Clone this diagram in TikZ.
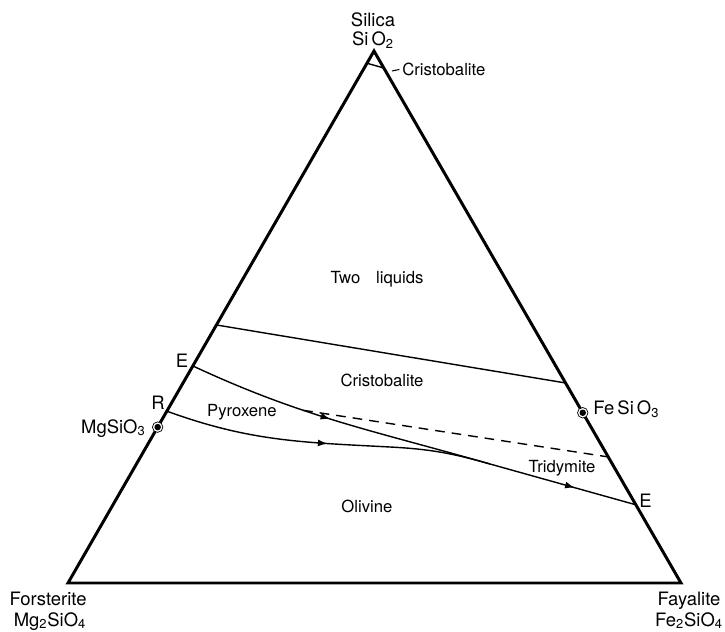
\documentclass[tikz,border=0pt]{standalone}
\usepackage{fontspec}
\setmainfont{TeX Gyre Heros}
\usepackage{tikz}
\usetikzlibrary{arrows.meta, calc, decorations.markings}
\tikzset{
  rim/.style       = {line width=1.7pt, line join=miter},
  boundary/.style  = {line width=0.8pt},
  solvus/.style    = {line width=0.8pt, dash pattern=on 5.5pt off 4pt},
  flowat/.style    = {postaction={decorate, decoration={markings,
                      mark=at position #1 with {\arrow{Latex[length=1.9mm, width=1.4mm]}}}}},
  endlab/.style    = {font=\fontsize{10.5}{11}\selectfont, inner sep=0pt, anchor=base},
  ptlab/.style     = {font=\fontsize{10.5}{11}\selectfont, inner sep=0pt, anchor=base},
  fieldlab/.style  = {font=\fontsize{9.5}{10}\selectfont, inner sep=0pt, anchor=base},
  compound/.style  = {circle, draw, line width=0.4pt, fill=white, inner sep=0pt,
                      minimum size=2.1mm},
}

\begin{document}
\begin{tikzpicture}[x=0.02cm, y=0.02cm]
  \useasboundingbox (0,0) rectangle (725,-632);
  \coordinate (silica) at (374,-51);
  \coordinate (forst)  at (68,-583);
  \coordinate (fay)    at (681,-583);
  \coordinate (crL)    at ($(silica)!0.023!(forst)$);
  \coordinate (crR)    at ($(silica)!0.032!(fay)$);
  \coordinate (twoL)   at ($(silica)!0.515!(forst)$);
  \coordinate (twoR)   at ($(silica)!0.624!(fay)$);
  \coordinate (eL)     at ($(silica)!0.592!(forst)$);
  \coordinate (rP)     at ($(silica)!0.677!(forst)$);
  \coordinate (mgP)    at ($(silica)!0.707!(forst)$);
  \coordinate (feP)    at ($(silica)!0.680!(fay)$);
  \coordinate (dashR)  at ($(silica)!0.763!(fay)$);
  \coordinate (eR)     at ($(silica)!0.853!(fay)$);
  \coordinate (join)   at (490,-464);
  \coordinate (bend)   at (390,-447);
  \coordinate (crtick) at (392,-71);

  \draw[rim] (silica) -- (forst) -- (fay) -- cycle;
  \draw[boundary] (crL) -- (crR);
  \draw[boundary] (twoL) -- (twoR);
  \draw[boundary, flowat=0.47] (eL) to[out=-25, in=164] coordinate[pos=0.37] (dashL) (join);
  \draw[boundary, flowat=0.58] (join) -- (eR);
  \draw[boundary, flowat=0.5] (rP) to[out=-20, in=177] (bend) to[out=-3, in=164] (join);
  \draw[solvus] (dashL) -- (dashR);

  \node[compound] (mgdot) at (mgP) {};
  \node[compound] (fedot) at (feP) {};
  \fill (mgdot.center) circle (0.65mm);
  \fill (fedot.center) circle (0.65mm);

  \node[endlab] (silname)  at (373,-27)  {Silica};
  \node[endlab] (silform)  at (373,-46)  {Si\,O\textsubscript{2}};
  \node[endlab] (forname)  at (48,-605)  {Forsterite};
  \node[endlab] (forform)  at (50,-626)  {Mg\textsubscript{2}SiO\textsubscript{4}};
  \node[endlab] (fayname)  at (689,-605) {Fayalite};
  \node[endlab] (fayform)  at (689,-626) {Fe\textsubscript{2}SiO\textsubscript{4}};
  \node[ptlab, anchor=base east] (mglab) at (146,-433) {MgSiO\textsubscript{3}};
  \node[ptlab, anchor=base west] (felab) at (593,-415) {Fe\,Si\,O\textsubscript{3}};
  \node[ptlab] (elab)  at (182,-367) {E};
  \node[ptlab] (rlab)  at (158,-409) {R};
  \node[ptlab, anchor=base west] (erlab) at (639,-507) {E};

  \node[fieldlab, anchor=base west] (crtop) at (402,-75) {Cristobalite};
  \draw[line width=0.6pt, shorten >=1.5pt] (crtick) -- (crtop.west);
  \node[fieldlab] (twoliq) at (377,-283) {Two\hspace{9pt}liquids};
  \node[fieldlab] (crmid)  at (382,-386) {Cristobalite};
  \node[fieldlab] (pyx)    at (242,-417) {Pyroxene};
  \node[fieldlab] (trid)   at (562,-472) {Tridymite};
  \node[fieldlab] (oliv)   at (367,-512) {Olivine};
\end{tikzpicture}
\end{document}
